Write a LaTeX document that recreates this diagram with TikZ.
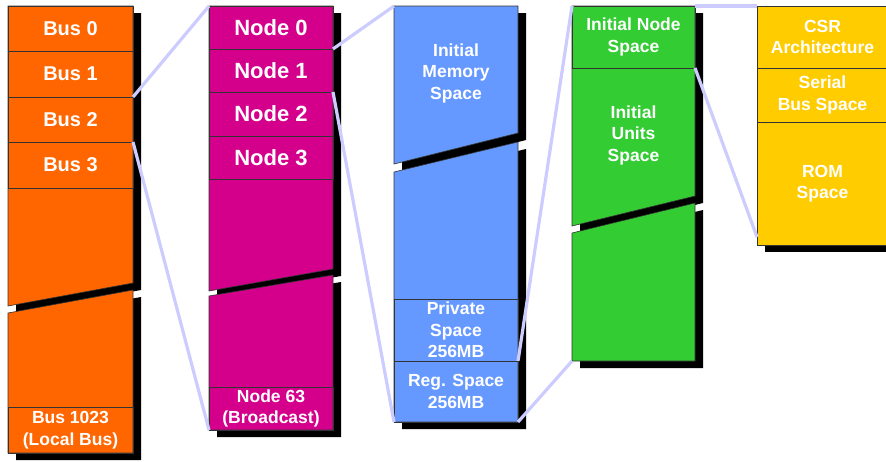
\documentclass[tikz,border=0pt]{standalone}
\usepackage{fontspec}
\setmainfont{Liberation Sans}
\usetikzlibrary{calc}
\definecolor{busorange}{HTML}{FF6600}
\definecolor{nodemag}{HTML}{D4008C}
\definecolor{memblue}{HTML}{6699FF}
\definecolor{unitgreen}{HTML}{33CC33}
\definecolor{csryellow}{HTML}{FFCC00}
\definecolor{linklav}{HTML}{CCCCFF}
\begin{document}
\begin{tikzpicture}[x=1pt,y=-1pt,
  edge/.style={draw=black!80,line width=0.6pt},
  cell/.style={inner sep=0pt,outer sep=0pt,anchor=north west,text=white,align=center,
    font=\bfseries\fontsize{17.5}{21.5}\selectfont},
  row/.style={cell,edge},
  bigrow/.style={row,font=\bfseries\fontsize{20}{24}\selectfont},
  widerow/.style={row,font=\bfseries\fontsize{22}{24}\selectfont},
  link/.style={draw=linklav,line width=3.2pt}]
\useasboundingbox (0,0) rectangle (886,461);
\clip (0,0) rectangle (886,461);

% ---------- drop shadows ----------
\begin{scope}[shift={(8,7)},black]
  % bus column
  \fill (8,6) -- (133,6) -- (133,283) -- (8,306) -- cycle;
  \fill (8,313) -- (133,290) -- (133,453) -- (8,453) -- cycle;
  % node column
  \fill (209,6) -- (333,6) -- (333,269) -- (209,291) -- cycle;
  \fill (209,296) -- (333,275) -- (333,430) -- (209,430) -- cycle;
  % memory column
  \fill (394,6) -- (518,6) -- (518,133) -- (394,164) -- cycle;
  \fill (394,172) -- (518,142) -- (518,422) -- (394,422) -- cycle;
  % node space column
  \fill (572,6) -- (695,6) -- (695,196) -- (572,226) -- cycle;
  \fill (572,233) -- (695,203) -- (695,361) -- (572,361) -- cycle;
  % CSR column
  \fill (757,6) rectangle (888,245);
\end{scope}

% ---------- bus column ----------
\filldraw[edge,fill=busorange] (8,6) -- (133,6) -- (133,283) -- (8,306) -- cycle;
\filldraw[edge,fill=busorange] (8,313) -- (133,290) -- (133,453) -- (8,453) -- cycle;
\node[bigrow,minimum width=125pt,minimum height=45pt] (bus0) at (8,6) {Bus 0};
\node[bigrow,minimum width=125pt,minimum height=46pt] (bus1) at (8,51) {Bus 1};
\node[bigrow,minimum width=125pt,minimum height=45pt] (bus2) at (8,97) {Bus 2};
\node[bigrow,minimum width=125pt,minimum height=46pt] (bus3) at (8,142) {Bus 3};
\node[row,minimum width=125pt,minimum height=46pt] (bus1023) at (8,407) {Bus 1023\\(Local Bus)};

% ---------- node column ----------
\filldraw[edge,fill=nodemag] (209,6) -- (333,6) -- (333,269) -- (209,291) -- cycle;
\filldraw[edge,fill=nodemag] (209,296) -- (333,275) -- (333,430) -- (209,430) -- cycle;
\node[widerow,minimum width=124pt,minimum height=43pt] (node0) at (209,6) {Node 0};
\node[widerow,minimum width=124pt,minimum height=43pt] (node1) at (209,49) {Node 1};
\node[widerow,minimum width=124pt,minimum height=44pt] (node2) at (209,92) {Node 2};
\node[widerow,minimum width=124pt,minimum height=43pt] (node3) at (209,136) {Node 3};
\node[row,minimum width=124pt,minimum height=43pt] (node63) at (209,387) {Node 63\\(Broadcast)};

% ---------- memory column ----------
\filldraw[edge,fill=memblue] (394,6) -- (518,6) -- (518,133) -- (394,164) -- cycle;
\filldraw[edge,fill=memblue] (394,172) -- (518,142) -- (518,422) -- (394,422) -- cycle;
\node[cell,minimum width=124pt,minimum height=134pt] (imem) at (394,6) {Initial\\Memory\\Space};
\node[row,minimum width=124pt,minimum height=62pt] (priv) at (394,299) {Private\\Space\\256MB};
\node[row,minimum width=124pt,minimum height=61pt] (reg) at (394,361) {Reg. Space\\256MB};

% ---------- node space column ----------
\filldraw[edge,fill=unitgreen] (572,6) -- (695,6) -- (695,196) -- (572,226) -- cycle;
\filldraw[edge,fill=unitgreen] (572,233) -- (695,203) -- (695,361) -- (572,361) -- cycle;
\node[row,minimum width=123pt,minimum height=62pt] (inode) at (572,6) {Initial Node\\Space};
\node[cell,minimum width=123pt,minimum height=134pt] (iunits) at (572,68) {Initial\\Units\\Space};
\coordinate (gbl) at (572,361);

% ---------- CSR column ----------
\filldraw[edge,fill=csryellow] (757,6) rectangle (888,245);
\node[row,minimum width=131pt,minimum height=62pt] (csr) at (757,6) {CSR\\Architecture};
\node[row,minimum width=131pt,minimum height=54pt] (sbs) at (757,68) {Serial\\Bus Space};
\node[row,minimum width=131pt,minimum height=123pt] (rom) at (757,122) {ROM\\Space};

% ---------- zoom links ----------
\draw[link] (bus1.south east) -- (node0.north west);
\draw[link] (bus3.north east) -- (node63.south west);
\draw[link] (node1.north east) -- (imem.north west);
\draw[link] (node1.south east) -- (reg.south west);
\draw[link] (priv.south east) -- (inode.north west);
\draw[link] (reg.south east) -- (gbl);
\draw[link] (inode.north east) -- (csr.north west);
\draw[link] (inode.south east) -- ([yshift=8pt]rom.south west);
\end{tikzpicture}
\end{document}
